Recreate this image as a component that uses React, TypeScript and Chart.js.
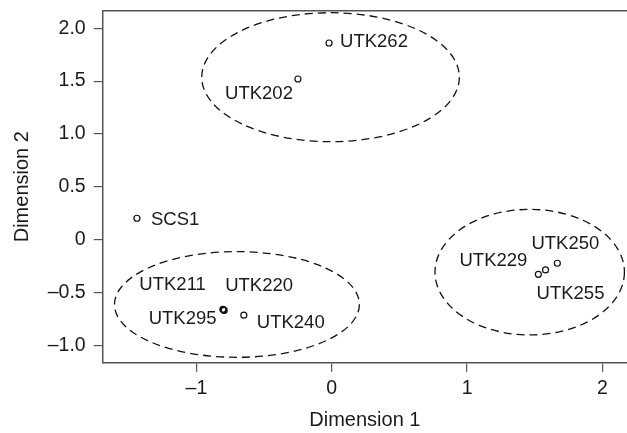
import React, { useEffect, useRef } from "react";
import { Chart, registerables } from "chart.js";

Chart.register(...registerables);

// ---- data ----
const names = ["UTK262", "UTK202", "SCS1", "UTK211", "UTK220", "UTK295", "UTK240", "UTK229", "UTK255", "UTK250"];
const dim1 = [-0.02, -0.25, -1.44, -0.805, -0.795, -0.8, -0.65, 1.527, 1.58, 1.667];
const dim2 = [1.86, 1.52, 0.205, -0.655, -0.665, -0.66, -0.71, -0.324, -0.283, -0.22];

// label placement (text anchor relative to its point, px)
const labelAlign = ["left", "right", "left", "right", "left", "right", "left", "right", "left", "center"];
const labelDx = [11, -5, 14, -17, 1, -7, 13, -11, -9, 8];
const labelDy = [-1, 15, 2, -24, -24, 9, 8, -13, 24, -19];

// group ellipses (data units)
const ellipseCx = [-0.009, -0.701, 1.463];
const ellipseCy = [1.537, -0.609, -0.304];
const ellipseRx = [0.952, 0.905, 0.7];
const ellipseRy = [0.609, 0.499, 0.593];

// axes
const xMin = -1.693;
const xMax = 2.182;
const yMin = -1.159;
const yMax = 2.165;
const xTickStep = 1;
const yTickStep = 0.5;
const xTitle = "Dimension 1";
const yTitle = "Dimension 2";

const FONT = "'Liberation Sans', Arial, Helvetica, sans-serif";
const AXIS_COLOR = "#555";
const TEXT_COLOR = "#1a1a1a";

const fmt = (v: number, decimals: number) => {
  if (Math.abs(v) < 1e-9) return "0";
  const s = Math.abs(v).toFixed(decimals);
  return v < 0 ? "\u2013" + s : s;
};

const decorPlugin = {
  id: "decor",
  beforeDatasetsDraw(chart: any) {
    const { ctx, chartArea, scales } = chart;
    const xs = scales.x;
    const ys = scales.y;
    ctx.save();
    // top frame line
    ctx.strokeStyle = AXIS_COLOR;
    ctx.lineWidth = 1.5;
    ctx.beginPath();
    ctx.moveTo(chartArea.left, chartArea.top);
    ctx.lineTo(chartArea.right, chartArea.top);
    ctx.stroke();
    // ellipses
    ctx.strokeStyle = "#111";
    ctx.lineWidth = 1.3;
    ctx.setLineDash([8, 5]);
    for (let i = 0; i < ellipseCx.length; i++) {
      const cx = xs.getPixelForValue(ellipseCx[i]);
      const cy = ys.getPixelForValue(ellipseCy[i]);
      const rx = Math.abs(xs.getPixelForValue(ellipseCx[i] + ellipseRx[i]) - cx);
      const ry = Math.abs(ys.getPixelForValue(ellipseCy[i] + ellipseRy[i]) - cy);
      ctx.beginPath();
      ctx.ellipse(cx, cy, rx, ry, 0, 0, Math.PI * 2);
      ctx.stroke();
    }
    ctx.restore();
  },
  afterDatasetsDraw(chart: any) {
    const { ctx } = chart;
    const meta = chart.getDatasetMeta(0);
    ctx.save();
    ctx.font = `18.5px ${FONT}`;
    ctx.fillStyle = TEXT_COLOR;
    ctx.textBaseline = "middle";
    meta.data.forEach((pt: any, i: number) => {
      ctx.textAlign = labelAlign[i] as CanvasTextAlign;
      ctx.fillText(names[i], pt.x + labelDx[i], pt.y + labelDy[i]);
    });
    ctx.restore();
  },
};

export default function App() {
  const ref = useRef<HTMLCanvasElement | null>(null);
  useEffect(() => {
    document.body.style.margin = "0";
    document.body.style.overflow = "hidden";
    const canvas = ref.current;
    if (!canvas) return;
    const chart = new Chart(canvas, {
      type: "scatter",
      data: {
        datasets: [
          {
            data: dim1.map((x, i) => ({ x, y: dim2[i] })),
            pointStyle: "circle",
            pointRadius: 3,
            pointBorderWidth: 1.2,
            borderColor: "#111",
            backgroundColor: "rgba(255,255,255,0)",
          },
        ],
      },
      options: {
        animation: false,
        responsive: true,
        maintainAspectRatio: false,
        layout: { autoPadding: false, padding: { top: 10.7, right: 0, bottom: 0, left: 0 } },
        plugins: { legend: { display: false }, tooltip: { enabled: false } },
        scales: {
          x: {
            type: "linear",
            min: xMin,
            max: xMax,
            afterFit: (s: any) => {
              s.height = 70.3;
              s.paddingLeft = 0;
              s.paddingRight = 0;
            },
            border: { display: true, color: AXIS_COLOR, width: 1.5 },
            grid: { drawOnChartArea: false, drawTicks: true, tickLength: 9, color: AXIS_COLOR, lineWidth: 1.2 },
            ticks: {
              stepSize: xTickStep,
              includeBounds: false,
              padding: 5,
              color: TEXT_COLOR,
              font: { family: FONT, size: 19.5 },
              callback: (v: any) => fmt(Number(v), 0),
            },
            title: {
              display: true,
              text: xTitle,
              color: TEXT_COLOR,
              font: { family: FONT, size: 20 },
              padding: { top: 0, bottom: 0.5 },
            },
          },
          y: {
            type: "linear",
            min: yMin,
            max: yMax,
            afterFit: (s: any) => {
              s.width = 102.7;
              s.paddingTop = 0;
              s.paddingBottom = 0;
            },
            border: { display: true, color: AXIS_COLOR, width: 1.5 },
            grid: { drawOnChartArea: false, drawTicks: true, tickLength: 9, color: AXIS_COLOR, lineWidth: 1.2 },
            ticks: {
              stepSize: yTickStep,
              includeBounds: false,
              padding: 8,
              color: TEXT_COLOR,
              font: { family: FONT, size: 19.5 },
              callback: (v: any) => fmt(Number(v), 1),
            },
            title: {
              display: true,
              text: yTitle,
              color: TEXT_COLOR,
              font: { family: FONT, size: 20 },
              padding: { top: 10, bottom: 0 },
            },
          },
        },
      },
      plugins: [decorPlugin],
    } as any);
    return () => chart.destroy();
  }, []);
  return (
    <div style={{ width: 627, height: 433, position: "relative" }}>
      <canvas ref={ref} />
    </div>
  );
}
